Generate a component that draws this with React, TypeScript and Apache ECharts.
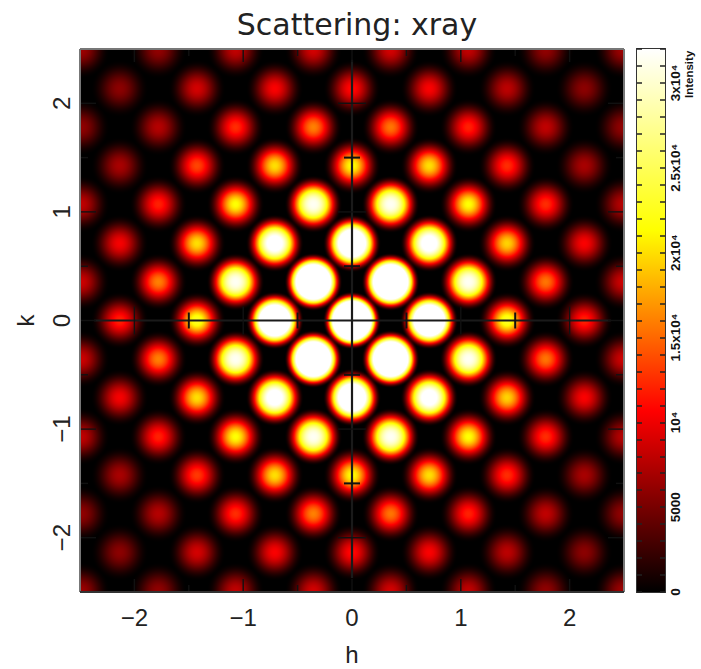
import React, { useEffect, useRef } from "react";
import * as echarts from "echarts";

const title = "Scattering: xray";
const oddH = [-2.49, -1.78, -1.07, -0.355, 0.355, 1.07, 1.78, 2.49];
const evenH = [-2.135, -1.425, -0.71, 0, 0.71, 1.425, 2.135];
const kRows = [2.49, 2.135, 1.78, 1.425, 1.07, 0.71, 0.355, 0, -0.355, -0.71, -1.07, -1.425, -1.78, -2.135, -2.49];

const intensityRows: number[][] = [
  [6500, 6000, 8000, 8800, 8800, 8000, 6000, 6500],
  [5800, 8800, 10500, 11000, 10500, 7800, 5800],
  [6000, 7500, 12500, 16000, 15500, 12000, 8000, 6000],
  [7000, 13500, 20000, 21500, 20000, 12500, 7000],
  [8000, 12000, 21500, 31500, 31500, 21500, 12500, 7500],
  [10300, 20000, 34000, 40000, 34000, 19500, 10500],
  [8500, 16000, 31500, 47000, 47000, 31500, 15500, 8500],
  [12000, 23000, 43000, 55000, 43000, 23000, 12000],
  [8500, 16000, 31500, 47000, 47000, 31500, 15500, 8500],
  [10300, 20000, 34000, 40000, 34000, 19500, 10500],
  [8000, 12000, 21500, 31500, 31500, 21500, 12500, 7500],
  [7000, 13000, 20000, 21500, 20000, 12500, 7000],
  [6000, 7500, 12500, 16000, 15500, 12000, 8000, 6000],
  [5800, 8800, 10500, 11000, 10500, 7800, 5800],
  [6500, 6000, 8000, 8800, 8800, 8000, 6000, 6500],
];

const axisValues = [-2, -1, 0, 1, 2];
const minorValues = [-1.5, -0.5, 0.5, 1.5];
const barLabelValues = [0, 5000, 10000, 15000, 20000, 25000, 30000];
const barLabels = ["0", "5000", "10⁴", "1.5x10⁴", "2x10⁴", "2.5x10⁴", "3x10⁴"];
const barMax = 32000;

// Colour of the bar's scale; below red it fades out so that the black plot shows through.
const hot = (v: number) => {
  const t = Math.min(1, Math.max(0, v / barMax)) * 3;
  if (t <= 1) return `rgba(255,0,0,${t.toFixed(3)})`;
  const g = Math.round(Math.min(1, t - 1) * 255);
  const b = Math.round(Math.min(1, Math.max(0, t - 2)) * 255);
  return `rgb(255,${g},${b})`;
};

const PEAK_R = 29;
const peakData: number[][] = [];
intensityRows.forEach((row, idx) => {
  const hs = row.length === 8 ? oddH : evenH;
  row.forEach((v, c) => peakData.push([hs[c], kRows[idx], v]));
});

const font = "'Liberation Sans', Arial, sans-serif";
const titleFont = "'DejaVu Sans', sans-serif";

export default function App() {
  const ref = useRef<HTMLDivElement>(null);
  useEffect(() => {
    const chart = echarts.init(ref.current!, null, { renderer: "svg" });
    const renderPeak = (_p: any, api: any) => {
      const [cx, cy] = api.coord([api.value(0), api.value(1)]);
      const I0 = api.value(2);
      const flat = 1 + Math.min(1, Math.max(0, (I0 - 25000) / 25000));
      const stops = [];
      for (let s = 0; s <= 32; s++) {
        const t = s / 32;
        const c = Math.cos((Math.PI / 2) * Math.pow(t, flat));
        stops.push({ offset: t, color: hot(I0 * c * c) });
      }
      return {
        type: "circle",
        shape: { cx, cy, r: PEAK_R },
        style: { fill: new echarts.graphic.RadialGradient(0.5, 0.5, 0.5, stops) },
      };
    };
    const seg = (x1: number, y1: number, x2: number, y2: number, w: number, color = "#111") => ({
      type: "line",
      shape: { x1, y1, x2, y2 },
      style: { stroke: color, lineWidth: w },
    });
    const renderTick = (_p: any, api: any) => {
      const val = api.value(0);
      const isK = api.value(1) === 1;
      const major = api.value(2) === 1;
      const children: any[] = [];
      const w = major ? 1.4 : 2;
      const cross = major ? 14 : 8;
      if (isK) {
        const [, y] = api.coord([0, val]);
        const [x0] = api.coord([0, 0]);
        const [xl] = api.coord([-2.5, 0]);
        const [xr] = api.coord([2.5, 0]);
        const len = major ? 16 : 8;
        children.push(seg(xl, y, xl + len, y, 1.4), seg(xr, y, xr - len, y, 1.4));
        if (val !== 0) children.push(seg(x0 - cross, y, x0 + cross, y, w));
      } else {
        const [x] = api.coord([val, 0]);
        const [, y0] = api.coord([0, 0]);
        const [, yt] = api.coord([0, 2.5]);
        const [, yb] = api.coord([0, -2.5]);
        const len = major ? 13 : 7;
        children.push(seg(x, yt, x, yt + len, 1.4), seg(x, yb, x, yb - len, 1.4));
        if (val !== 0) children.push(seg(x, y0 - cross, x, y0 + cross, w));
      }
      return { type: "group", children };
    };
    const renderCross = (_p: any, api: any) => {
      const a = api.coord([api.value(0), api.value(1)]);
      const b = api.coord([api.value(2), api.value(3)]);
      return seg(a[0], a[1], b[0], b[1], 2.2, "#1a1a1a");
    };
    const renderFrame = (_p: any, api: any) => {
      const a = api.coord([api.value(0), api.value(1)]);
      const b = api.coord([api.value(2), api.value(3)]);
      return seg(a[0], a[1], b[0], b[1], 2, api.value(4) === 1 ? "#333" : "#777");
    };
    const tickRows: number[][] = [];
    axisValues.forEach((v) => {
      tickRows.push([v, 0, 1], [v, 1, 1]);
    });
    minorValues.forEach((v) => {
      tickRows.push([v, 0, 0], [v, 1, 0]);
    });
    chart.setOption({
      animation: false,
      backgroundColor: "#fff",
      title: {
        text: title,
        left: 352,
        top: 4,
        textAlign: "center",
        textStyle: { fontFamily: titleFont, fontSize: 30, fontWeight: "normal", color: "#222" },
      },
      grid: [
        { left: 80, top: 49, width: 544, height: 543, show: true, backgroundColor: "#000", borderWidth: 0, outerBoundsMode: "none" },
        { left: 637, top: 49, width: 28, height: 543, show: true, backgroundColor: "#000", borderColor: "#333", borderWidth: 2, outerBoundsMode: "none" },
      ],
      xAxis: [
        {
          gridIndex: 0,
          type: "value",
          min: -2.5,
          max: 2.5,
          name: "h",
          nameLocation: "middle",
          nameGap: 50,
          nameTextStyle: { fontFamily: font, fontSize: 24, color: "#222" },
          axisLine: { show: false },
          axisTick: { show: false },
          splitLine: { show: false },
          axisLabel: {
            customValues: axisValues,
            margin: 13,
            fontFamily: font,
            fontSize: 24,
            color: "#222",
            formatter: (v: number) => String(v).replace("-", "−"),
          },
        },
        {
          gridIndex: 1,
          type: "category",
          data: ["Intensity"],
          axisLine: { show: false },
          axisTick: { show: false },
          axisLabel: { show: false },
          splitLine: { show: false },
        },
      ],
      yAxis: [
        {
          gridIndex: 0,
          type: "value",
          min: -2.5,
          max: 2.5,
          name: "k",
          nameLocation: "middle",
          nameRotate: 90,
          nameGap: 43,
          nameTextStyle: { fontFamily: font, fontSize: 24, color: "#222" },
          axisLine: { show: false },
          axisTick: { show: false },
          splitLine: { show: false },
          axisLabel: {
            customValues: axisValues,
            rotate: 90,
            margin: 7,
            fontFamily: font,
            fontSize: 24,
            color: "#222",
            formatter: (v: number) => String(v).replace("-", "−"),
          },
        },
        {
          gridIndex: 1,
          type: "value",
          position: "right",
          min: 0,
          max: barMax,
          interval: 1000,
          z: 5,
          axisLine: { show: false },
          splitLine: { show: false },
          axisTick: { show: true, inside: true, length: 5, lineStyle: { color: "#222", width: 1.5 } },
          axisLabel: {
            customValues: barLabelValues,
            rotate: 90,
            margin: 3,
            fontFamily: font,
            fontSize: 13.5,
            fontWeight: "bold",
            color: "#111",
            formatter: (v: number) => barLabels[barLabelValues.indexOf(v)] ?? "",
          },
        },
        {
          gridIndex: 1,
          type: "value",
          position: "left",
          min: 0,
          max: barMax,
          interval: 1000,
          z: 5,
          axisLine: { show: false },
          splitLine: { show: false },
          axisLabel: { show: false },
          axisTick: { show: true, inside: true, length: 5, lineStyle: { color: "#222", width: 1.5 } },
        },
      ],
      series: [
        {
          type: "custom",
          name: "peaks",
          xAxisIndex: 0,
          yAxisIndex: 0,
          clip: true,
          renderItem: renderPeak,
          data: peakData,
          encode: { x: 0, y: 1 },
          z: 2,
        },
        {
          type: "custom",
          name: "axes",
          xAxisIndex: 0,
          yAxisIndex: 0,
          clip: true,
          renderItem: renderCross,
          data: [
            [-2.37, 0, 2.38, 0],
            [0, 2.4, 0, -2.37],
          ],
          z: 3,
        },
        {
          type: "custom",
          name: "ticks",
          xAxisIndex: 0,
          yAxisIndex: 0,
          clip: true,
          renderItem: renderTick,
          data: tickRows,
          z: 4,
        },
        {
          type: "custom",
          name: "frame",
          xAxisIndex: 0,
          yAxisIndex: 0,
          clip: false,
          renderItem: renderFrame,
          data: [
            [-2.5, 2.5, 2.5, 2.5, 0],
            [-2.5, 2.5, -2.5, -2.5, 0],
            [2.5, 2.5, 2.5, -2.5, 0],
            [-2.5, -2.5, 2.5, -2.5, 1],
          ],
          z: 5,
        },
        {
          type: "bar",
          name: "Intensity",
          xAxisIndex: 1,
          yAxisIndex: 1,
          barWidth: "100%",
          data: [barMax],
          itemStyle: {
            color: new echarts.graphic.LinearGradient(0, 0, 0, 1, [
              { offset: 0, color: "#ffffff" },
              { offset: 1 / 3, color: "#ffff00" },
              { offset: 2 / 3, color: "#ff0000" },
              { offset: 1, color: "#000000" },
            ]),
          },
        },
      ],
      graphic: [
        {
          type: "text",
          x: 683,
          y: 98,
          rotation: Math.PI / 2,
          silent: true,
          style: { text: "Intensity", fontFamily: font, fontSize: 11.5, fontWeight: "bold", fill: "#111" },
        },
      ],
    });
    return () => chart.dispose();
  }, []);
  return <div ref={ref} style={{ position: "absolute", left: 0, top: 0, width: 701, height: 669 }} />;
}
